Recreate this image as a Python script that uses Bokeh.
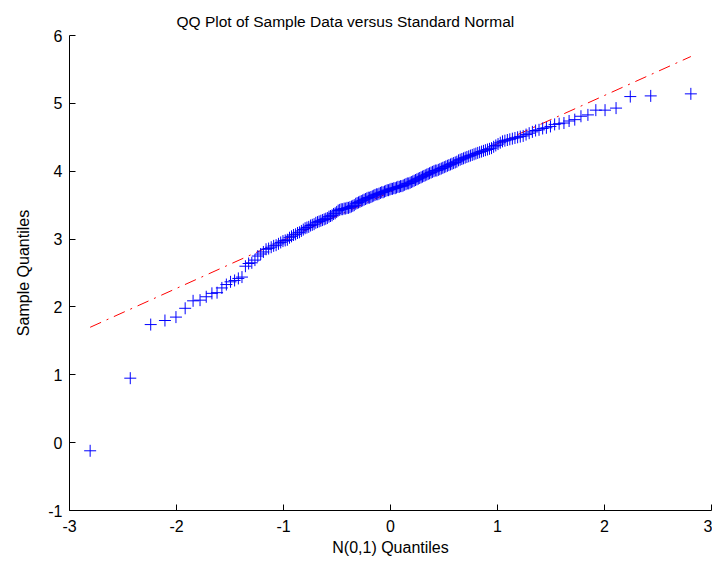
from bokeh.plotting import figure
from bokeh.embed import file_html
from bokeh.resources import INLINE
from bokeh.models import FixedTicker, CustomJSTickFormatter

# Theoretical N(0,1) quantiles (200 plotting positions)
normal_quantiles = [
    -2.807, -2.432, -2.241, -2.108, -2.005, -1.919, -1.845, -1.780, -1.722, -1.669,
    -1.621, -1.576, -1.534, -1.495, -1.457, -1.422, -1.388, -1.356, -1.326, -1.296,
    -1.267, -1.240, -1.213, -1.188, -1.163, -1.139, -1.115, -1.092, -1.069, -1.047,
    -1.026, -1.005, -0.984, -0.964, -0.944, -0.925, -0.906, -0.887, -0.869, -0.851,
    -0.833, -0.815, -0.798, -0.781, -0.764, -0.747, -0.731, -0.714, -0.698, -0.682,
    -0.667, -0.651, -0.636, -0.620, -0.605, -0.590, -0.575, -0.561, -0.546, -0.532,
    -0.517, -0.503, -0.489, -0.475, -0.461, -0.447, -0.433, -0.419, -0.406, -0.392,
    -0.379, -0.365, -0.352, -0.339, -0.325, -0.312, -0.299, -0.286, -0.273, -0.260,
    -0.247, -0.234, -0.221, -0.208, -0.195, -0.183, -0.170, -0.157, -0.145, -0.132,
    -0.119, -0.107, -0.094, -0.082, -0.069, -0.056, -0.044, -0.031, -0.019, -0.006,
    0.006, 0.019, 0.031, 0.044, 0.056, 0.069, 0.082, 0.094, 0.107, 0.119,
    0.132, 0.145, 0.157, 0.170, 0.183, 0.195, 0.208, 0.221, 0.234, 0.247,
    0.260, 0.273, 0.286, 0.299, 0.312, 0.325, 0.339, 0.352, 0.365, 0.379,
    0.392, 0.406, 0.419, 0.433, 0.447, 0.461, 0.475, 0.489, 0.503, 0.517,
    0.532, 0.546, 0.561, 0.575, 0.590, 0.605, 0.620, 0.636, 0.651, 0.667,
    0.682, 0.698, 0.714, 0.731, 0.747, 0.764, 0.781, 0.798, 0.815, 0.833,
    0.851, 0.869, 0.887, 0.906, 0.925, 0.944, 0.964, 0.984, 1.005, 1.026,
    1.047, 1.069, 1.092, 1.115, 1.139, 1.163, 1.188, 1.213, 1.240, 1.267,
    1.296, 1.326, 1.356, 1.388, 1.422, 1.457, 1.495, 1.534, 1.576, 1.621,
    1.669, 1.722, 1.780, 1.845, 1.919, 2.005, 2.108, 2.241, 2.432, 2.807,
]

# Sorted sample data
sample_quantiles = [
    -0.12, 0.95, 1.74, 1.80, 1.85, 1.98, 2.09, 2.10, 2.15, 2.20,
    2.21, 2.28, 2.33, 2.37, 2.39, 2.42, 2.44, 2.60, 2.64, 2.65,
    2.69, 2.75, 2.78, 2.81, 2.85, 2.86, 2.88, 2.90, 2.91, 2.93,
    2.95, 2.97, 2.98, 2.99, 3.02, 3.04, 3.06, 3.07, 3.09, 3.10,
    3.12, 3.14, 3.16, 3.17, 3.18, 3.20, 3.21, 3.22, 3.24, 3.25,
    3.26, 3.27, 3.28, 3.29, 3.30, 3.31, 3.33, 3.34, 3.35, 3.37,
    3.38, 3.40, 3.42, 3.43, 3.44, 3.44, 3.45, 3.45, 3.46, 3.46,
    3.47, 3.48, 3.49, 3.50, 3.52, 3.53, 3.54, 3.55, 3.56, 3.57,
    3.58, 3.59, 3.60, 3.61, 3.61, 3.62, 3.63, 3.64, 3.65, 3.66,
    3.66, 3.67, 3.68, 3.69, 3.69, 3.70, 3.71, 3.72, 3.72, 3.73,
    3.74, 3.74, 3.75, 3.75, 3.76, 3.77, 3.77, 3.78, 3.78, 3.79,
    3.80, 3.81, 3.82, 3.82, 3.83, 3.84, 3.85, 3.86, 3.87, 3.88,
    3.89, 3.90, 3.91, 3.92, 3.93, 3.94, 3.95, 3.96, 3.97, 3.98,
    3.99, 4.00, 4.01, 4.01, 4.02, 4.03, 4.04, 4.05, 4.06, 4.07,
    4.08, 4.09, 4.10, 4.11, 4.12, 4.13, 4.14, 4.16, 4.17, 4.18,
    4.19, 4.20, 4.21, 4.22, 4.23, 4.24, 4.25, 4.26, 4.27, 4.28,
    4.29, 4.30, 4.31, 4.32, 4.33, 4.34, 4.36, 4.38, 4.40, 4.42,
    4.44, 4.45, 4.46, 4.47, 4.48, 4.49, 4.50, 4.51, 4.52, 4.54,
    4.56, 4.58, 4.60, 4.61, 4.63, 4.64, 4.66, 4.69, 4.70, 4.71,
    4.74, 4.76, 4.81, 4.83, 4.90, 4.90, 4.93, 5.10, 5.11, 5.14,
]

# Reference line endpoints
ref_line_x = [-2.807, 2.807]
ref_line_y = [1.70, 5.69]

x_ticks = [-3, -2, -1, 0, 1, 2, 3]
y_ticks = [-1, 0, 1, 2, 3, 4, 5, 6]

title_text = "QQ Plot of Sample Data versus Standard Normal"
x_label = "N(0,1) Quantiles"
y_label = "Sample Quantiles"

FONT = "Liberation Sans"

p = figure(
    width=712, height=561,
    x_range=(-3, 3), y_range=(-1, 6),
    output_backend="svg", toolbar_location=None,
    min_border_left=69, min_border_right=1,
    min_border_top=35, min_border_bottom=51,
    title=title_text,
)
p.outline_line_color = None
p.background_fill_color = "white"
p.border_fill_color = "white"
p.xgrid.visible = False
p.ygrid.visible = False

p.title.text_font = FONT
p.title.text_font_size = "15.5px"
p.title.text_font_style = "normal"
p.title.text_color = "black"
p.title.align = "left"
p.title.offset = 107
p.title.standoff = 12

for ax, ticks in ((p.xaxis[0], x_ticks), (p.yaxis[0], y_ticks)):
    ax.ticker = FixedTicker(ticks=ticks)
    ax.formatter = CustomJSTickFormatter(code="return String(tick);")
    ax.major_tick_in = 6
    ax.major_tick_out = 0
    ax.minor_tick_line_color = None
    ax.axis_line_color = "black"
    ax.major_tick_line_color = "black"
    ax.major_label_text_font = FONT
    ax.major_label_text_font_size = "16px"
    ax.major_label_text_color = "black"
    ax.axis_label_text_font = FONT
    ax.axis_label_text_font_size = "16px"
    ax.axis_label_text_font_style = "normal"
    ax.axis_label_text_color = "black"

p.xaxis.axis_label = x_label
p.yaxis.axis_label = y_label
p.xaxis.major_label_standoff = 9
p.xaxis.axis_label_standoff = 4
p.yaxis.major_label_standoff = 7
p.yaxis.axis_label_standoff = 13

p.line(ref_line_x, ref_line_y, line_color="#ff0000", line_width=1,
       line_dash="12 6 2 6")
p.scatter(normal_quantiles, sample_quantiles, marker="cross", size=12,
          line_color="#0000ff", line_width=1)

open("out.html", "w").write(file_html(p, INLINE))
